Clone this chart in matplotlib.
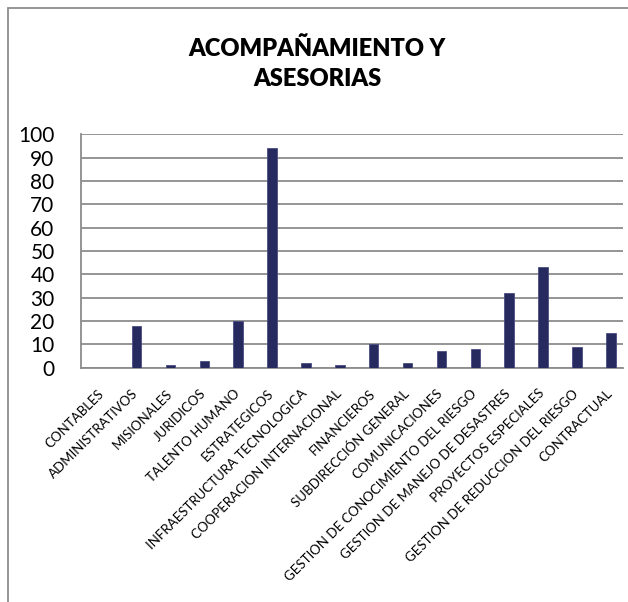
import matplotlib
matplotlib.use('Agg')
import matplotlib.pyplot as plt
from matplotlib.patches import Rectangle
import numpy as np

# categories and values
categories = ['CONTABLES', 'ADMINISTRATIVOS', 'MISIONALES', 'JURIDICOS',
              'TALENTO HUMANO', 'ESTRATEGICOS', 'INFRAESTRUCTURA TECNOLOGICA',
              'COOPERACION INTERNACIONAL', 'FINANCIEROS', 'SUBDIRECCIÓN GENERAL',
              'COMUNICACIONES', 'GESTION DE CONOCIMIENTO DEL RIESGO',
              'GESTION DE MANEJO DE DESASTRES', 'PROYECTOS ESPECIALES',
              'GESTION DE REDUCCION DEL RIESGO', 'CONTRACTUAL']
values = [0, 18, 1, 3, 20, 94, 2, 1, 10, 2, 7, 8, 32, 43, 9, 15]
yticks = list(range(0, 101, 10))

plt.rcParams['font.family'] = ['Lato', 'DejaVu Sans']

fig = plt.figure(figsize=(6.28, 6.02), dpi=100)
ax = fig.add_axes([0.129, 0.389, 0.863, 0.388])

x = np.arange(len(categories))
# the visible series sits on the right half of each category slot
ax.bar(x, values, width=0.28, align='edge', color='#262a5e',
       edgecolor='#4a4e80', linewidth=0.6, zorder=3)

ax.set_xlim(-0.5, len(categories) - 0.5)
ax.set_ylim(0, 100)
ax.set_yticks(yticks)
ax.set_yticklabels([str(v) for v in yticks], fontsize=15)
ax.tick_params(axis='y', length=0, pad=19)
ax.set_xticks(x)
ax.set_xticklabels(categories, rotation=45, ha='right', rotation_mode='anchor',
                   fontsize=9.5)
ax.tick_params(axis='x', length=0, pad=14)

ax.grid(axis='y', color='#8c8c8c', linewidth=1.3, zorder=0)
for side in ['top', 'right']:
    ax.spines[side].set_visible(False)
ax.spines['left'].set_color('#8c8c8c')
ax.spines['bottom'].set_color('#8c8c8c')
ax.spines['left'].set_linewidth(1.3)
ax.spines['bottom'].set_linewidth(1.3)

fig.text(0.505, 0.894, 'ACOMPAÑAMIENTO Y\nASESORIAS', ha='center', va='center',
         fontsize=17, fontweight='heavy', linespacing=1.45)

# outer chart frame, cut off on right and bottom
fig.patches.append(Rectangle((8 / 628, -0.1), 1.2, 1 - 8 / 602 + 0.1,
                             transform=fig.transFigure, fill=False,
                             edgecolor='#8c8c8c', linewidth=1.3))

fig.savefig('out.png', dpi=100, facecolor='white')
